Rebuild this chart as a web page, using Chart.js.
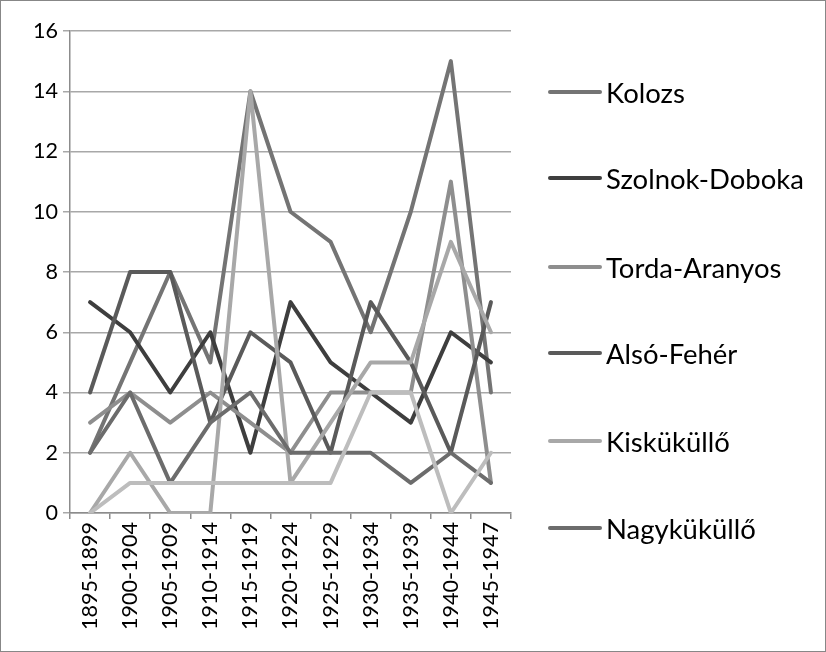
<!DOCTYPE html>
<html><head><meta charset="utf-8">
<script src="https://cdn.jsdelivr.net/npm/chart.js@4/dist/chart.umd.min.js"></script>
<style>
html,body{margin:0;padding:0;background:#fff;}
#wrap{position:relative;width:826px;height:652px;box-sizing:border-box;border:1px solid #878787;background:#fff;overflow:hidden;}
#c{position:absolute;left:0;top:0;}
#legend{position:absolute;left:0;top:0;width:824px;height:650px;pointer-events:none;}
.li{position:absolute;display:flex;align-items:center;font-family:Lato,"Open Sans",sans-serif;color:#000;white-space:nowrap;}
.sw{display:inline-block;width:54px;height:4px;margin-right:4px;border-radius:2px;}
</style></head><body>
<div id="wrap"><canvas id="c" width="824" height="650"></canvas><div id="legend"></div></div>
<script>
const categories = ["1895-1899","1900-1904","1905-1909","1910-1914","1915-1919","1920-1924","1925-1929","1930-1934","1935-1939","1940-1944","1945-1947"];
const yTicks = [0,2,4,6,8,10,12,14,16];
const kolozs        = [2, 5, 8, 5, 14, 10, 9, 6, 10, 15, 4];
const szolnokDoboka = [7, 6, 4, 6, 2, 7, 5, 4, 3, 6, 5];
const tordaAranyos  = [3, 4, 3, 4, 3, 2, 4, 4, 4, 11, 1];
const alsoFeher     = [4, 8, 8, 3, 6, 5, 2, 7, 5, 2, 7];
const kiskukullo    = [0, 2, 0, 0, 14, 1, 3, 5, 5, 9, 6];
const nagykukullo   = [2, 4, 1, 3, 4, 2, 2, 2, 1, 2, 1];
const hiddenSeries  = [0, 1, 1, 1, 1, 1, 1, 4, 4, 0, 2];
const seriesNames = ["Kolozs","Szolnok-Doboka","Torda-Aranyos","Alsó-Fehér","Kisküküllő","Nagyküküllő",""];
const seriesData = [kolozs, szolnokDoboka, tordaAranyos, alsoFeher, kiskukullo, nagykukullo, hiddenSeries];
const seriesColors = ["#747474","#3e3e3e","#8e8e8e","#5a5a5a","#a8a8a8","#6c6c6c","#bdbdbd"];

const FONT = "Lato";
const mctx = document.createElement('canvas').getContext('2d');
function fitSize(text, width){ mctx.font = "100px " + FONT; return 100*width/mctx.measureText(text).width; }
const tickSize = fitSize("1895-1899", 108);
const legendSize = fitSize("Szolnok-Doboka", 198);

const n = seriesData.length;
const datasets = seriesData.map((d,i)=>({
  label: seriesNames[i], data: d, borderColor: seriesColors[i], backgroundColor: seriesColors[i],
  borderWidth: 4, pointRadius: 0, tension: 0, borderJoinStyle: 'round', borderCapStyle: 'round',
  order: n - i, fill: false
}));

new Chart(document.getElementById('c'), {
  type: 'line',
  data: { labels: categories, datasets },
  options: {
    responsive: false, animation: false,
    layout: { padding: { left: 0, top: 30, right: 314, bottom: 0 } },
    plugins: { legend: { display: false }, tooltip: { enabled: false } },
    scales: {
      x: {
        offset: true,
        grid: { display: true, drawOnChartArea: false, drawTicks: true, tickLength: 6, offset: true, color: '#8c8c8c', lineWidth: 1.5 },
        border: { display: true, color: '#8c8c8c', width: 1.5 },
        ticks: { color: '#000', font: { family: FONT, size: tickSize }, maxRotation: 90, minRotation: 90, padding: 3, autoSkip: false },
        afterFit: (a) => { a.height = 138; }
      },
      y: {
        min: 0, max: 16,
        afterBuildTicks: (a) => { a.ticks = yTicks.map(v => ({ value: v })); },
        grid: { color: '#a8a8a8', lineWidth: 1.5, tickLength: 7 },
        border: { display: true, color: '#8c8c8c', width: 1.5 },
        ticks: { color: '#000', font: { family: FONT, size: tickSize }, padding: 5 },
        afterFit: (a) => { a.width = 69; }
      }
    }
  }
});

const legendEl = document.getElementById('legend');
const legendY = [91, 177, 266, 352, 440, 527];
seriesNames.forEach((name, i) => {
  if (!name) return;
  const item = document.createElement('div');
  item.className = 'li';
  item.style.left = '547px';
  item.style.top = (legendY[i] - 20) + 'px';
  item.style.height = '40px';
  item.style.fontSize = legendSize + 'px';
  const sw = document.createElement('span');
  sw.className = 'sw';
  sw.style.background = seriesColors[i];
  const tx = document.createElement('span');
  tx.textContent = name;
  item.appendChild(sw); item.appendChild(tx);
  legendEl.appendChild(item);
});
</script>
</body></html>
